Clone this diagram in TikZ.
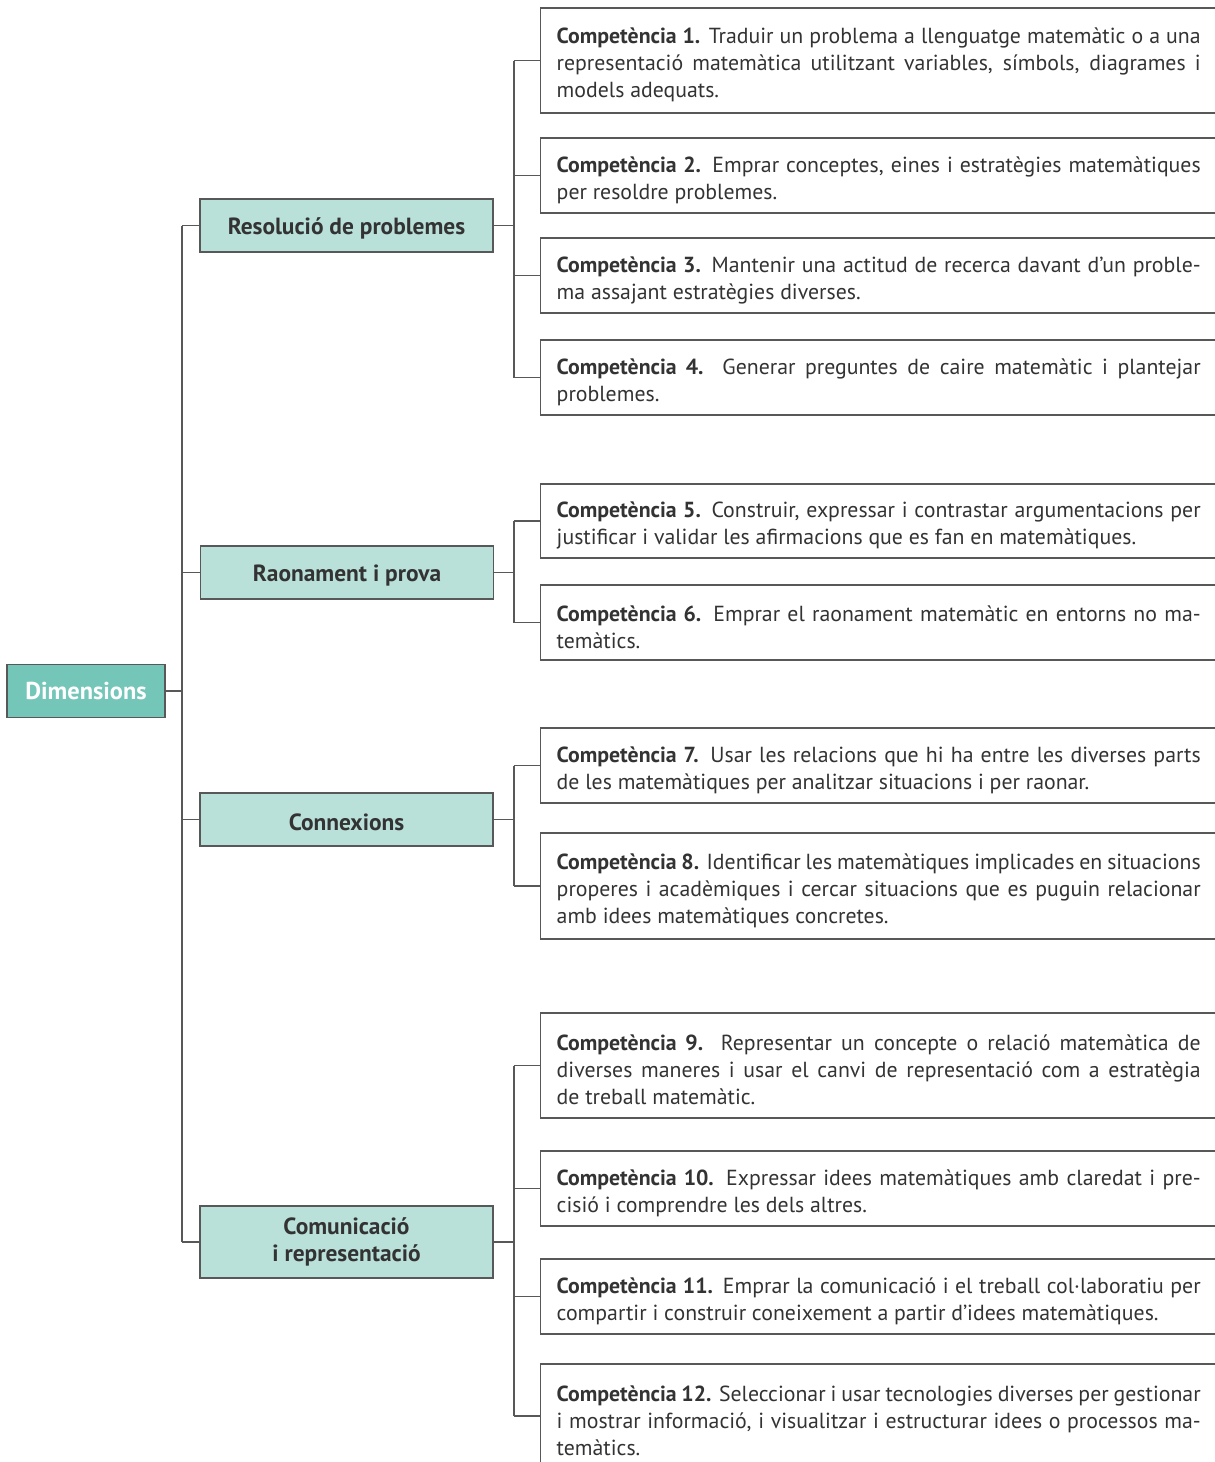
\documentclass[tikz,border=0pt]{standalone}
\usepackage{fontspec}
\setmainfont{PT Sans}
\usepackage{tikz}
\usetikzlibrary{positioning}
\usepackage{xcolor}

\definecolor{rootteal}{HTML}{73C6B8}
\definecolor{dimteal}{HTML}{BAE1D9}
\definecolor{linegray}{HTML}{585858}
\definecolor{textgray}{HTML}{333333}

\tikzset{
  rootbox/.style={draw=linegray, fill=rootteal, line width=0.7pt, minimum width=79pt,
    minimum height=26.5pt, text=white, font=\bfseries\fontsize{12.2}{13}\selectfont},
  dimbox/.style={draw=linegray, fill=dimteal, line width=0.7pt, minimum width=146.5pt,
    minimum height=26.5pt, align=center, text=textgray, font=\bfseries\fontsize{11.7}{13.5}\selectfont,
    execute at begin node={\rule{0pt}{11.5pt}}},
  compbox/.style={draw=linegray, line width=0.7pt, anchor=west, inner xsep=8pt, inner ysep=0pt,
    text width=322pt, align=justify, text=textgray, font=\fontsize{10.9}{13.5}\selectfont},
  link/.style={draw=linegray, line width=0.7pt},
}
\newcommand{\comp}[1]{\rule{0pt}{12.5pt}\textbf{Competència #1.}}

\begin{document}
\begin{tikzpicture}[x=0.5pt, y=-0.5pt]
  \useasboundingbox (0,0) rectangle (1215,1462);

  % arrel i dimensions
  \node[rootbox] (root) at (86,691) {Dimensions};
  \node[dimbox] (dres) at (346.5,225.5) {Resolució de problemes};
  \node[dimbox] (drao) at (347,572.5) {Raonament i prova};
  \node[dimbox] (dcon) at (346.5,819.5) {Connexions};
  \node[dimbox, minimum height=36pt] (dcom) at (346.5,1242) {Comunicació\\i representació};

  % competencies
  \node[compbox, minimum height=52.5pt] (c1) at (540,60.5) {\comp{1} Traduir un problema a llenguatge matemàtic o a una\linebreak
    representació matemàtica utilitzant variables, símbols, diagrames i\linebreak models adequats.};
  \node[compbox, minimum height=37.5pt] (c2) at (540,175.5) {\comp{2} Emprar conceptes, eines i estratègies matemàtiques\linebreak
    per resoldre problemes.};
  \node[compbox, minimum height=37.5pt] (c3) at (540,275.5) {\comp{3} Mantenir una actitud de recerca davant d’un proble-\linebreak
    ma assajant estratègies diverses.};
  \node[compbox, minimum height=37.5pt] (c4) at (540,377.5) {\comp{4} Generar preguntes de caire matemàtic i plantejar\linebreak
    problemes.};
  \node[compbox, minimum height=37pt] (c5) at (540,521) {\comp{5} Construir, expressar i contrastar argumentacions per\linebreak
    justificar i validar les afirmacions que es fan en matemàtiques.};
  \node[compbox, minimum height=37.5pt] (c6) at (540,622.5) {\comp{6} Emprar el raonament matemàtic en entorns no ma-\linebreak
    temàtics.};
  \node[compbox, minimum height=37.5pt] (c7) at (540,765.5) {\comp{7} Usar les relacions que hi ha entre les diverses parts\linebreak
    de les matemàtiques per analitzar situacions i per raonar.};
  \node[compbox, minimum height=53pt] (c8) at (540,886) {\comp{8} Identificar les matemàtiques implicades en situacions\linebreak
    properes i acadèmiques i cercar situacions que es puguin relacionar\linebreak amb idees matemàtiques concretes.};
  \node[compbox, minimum height=52.5pt] (c9) at (540,1065.5) {\comp{9} Representar un concepte o relació matemàtica de\linebreak
    diverses maneres i usar el canvi de representació com a estratègia\linebreak de treball matemàtic.};
  \node[compbox, minimum height=37.5pt] (c10) at (540,1188.5) {\comp{10} Expressar idees matemàtiques amb claredat i pre-\linebreak
    cisió i comprendre les dels altres.};
  \node[compbox, minimum height=37.5pt] (c11) at (540,1296.5) {\comp{11} Emprar la comunicació i el treball col·laboratiu per\linebreak
    compartir i construir coneixement a partir d’idees matemàtiques.};
  \node[compbox, minimum height=52pt] (c12) at (540,1416) {\comp{12} Seleccionar i usar tecnologies diverses per gestionar\linebreak
    i mostrar informació, i visualitzar i estructurar idees o processos ma-\linebreak temàtics.};

  % connectors
  \coordinate (trunk) at (182,0);
  \coordinate (branch) at (514,0);
  \draw[link] (root.east) -- (root.east -| trunk);
  \draw[link] (dres.west -| trunk) -- (dcom.west -| trunk);
  \foreach \d in {dres,drao,dcon,dcom}
    \draw[link] (\d.west -| trunk) -- (\d.west);

  \foreach \d/\a/\b in {dres/1/4, drao/5/6, dcon/7/8, dcom/9/12}{
    \draw[link] (\d.east) -- (\d.east -| branch);
    \draw[link] (c\a.west -| branch) -- (c\b.west -| branch);
  }
  \foreach \c in {1,...,12}
    \draw[link] (c\c.west -| branch) -- (c\c.west);
\end{tikzpicture}
\end{document}
